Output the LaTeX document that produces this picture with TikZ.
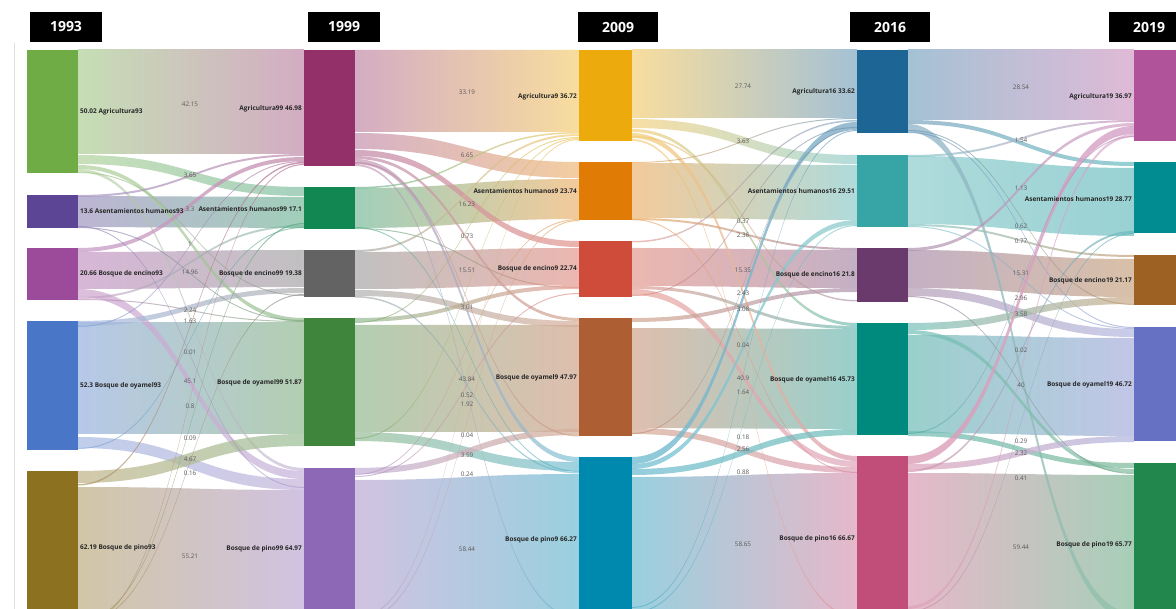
\documentclass[tikz,border=0pt]{standalone}
\usepackage{fontspec}
\setmainfont{Open Sans}
\pgfdeclarelayer{bands}
\pgfsetlayers{bands,main}

% bar colours
\definecolor{cA93}{HTML}{6FAC46}\definecolor{cH93}{HTML}{5B4594}\definecolor{cE93}{HTML}{9C4A9A}\definecolor{cO93}{HTML}{4A76C8}\definecolor{cP93}{HTML}{8B7120}
\definecolor{cA99}{HTML}{933069}\definecolor{cH99}{HTML}{138752}\definecolor{cE99}{HTML}{636363}\definecolor{cO99}{HTML}{3F853C}\definecolor{cP99}{HTML}{8C68B6}
\definecolor{cA9}{HTML}{EDAA0C}\definecolor{cH9}{HTML}{E07B05}\definecolor{cE9}{HTML}{CF4B3A}\definecolor{cO9}{HTML}{AD5E33}\definecolor{cP9}{HTML}{0089AE}
\definecolor{cA16}{HTML}{1C6595}\definecolor{cH16}{HTML}{37A5A5}\definecolor{cE16}{HTML}{6A3A6C}\definecolor{cO16}{HTML}{008A7E}\definecolor{cP16}{HTML}{C04E79}
\definecolor{cA19}{HTML}{B0539A}\definecolor{cH19}{HTML}{008C91}\definecolor{cE19}{HTML}{9E6124}\definecolor{cO19}{HTML}{6771C3}\definecolor{cP19}{HTML}{22874D}
\definecolor{valgray}{HTML}{5A5A5A}

\tikzset{
  bar/.style={rectangle, draw=none, inner sep=0pt, outer sep=0pt, minimum width=51pt, anchor=north west},
  lbl/.style={font=\bfseries\fontsize{6.5}{7}\selectfont, inner sep=0pt, text=black!85},
  val/.style={font=\fontsize{6.3}{7}\selectfont, inner sep=0pt, text=valgray},
  yearbox/.style={fill=black, text=white, font=\bfseries\fontsize{14}{16}\selectfont,
    minimum height=30pt, inner sep=0pt, outer sep=0pt, anchor=north west},
}

% \sflow{source}{offset}{target}{offset}{thickness}{tint}{opacity}
\newcommand\sflow[7]{%
  \path[left color=c#1!#6!white, right color=c#3!#6!white, fill opacity=#7]
    ([yshift=-#2pt]#1.north east) .. controls +(113,0) and +(-113,0) .. ([yshift=-#4pt]#3.north west)
    -- ([yshift={-#4pt-#5pt}]#3.north west) .. controls +(-113,0) and +(113,0) .. ([yshift={-#2pt-#5pt}]#1.north east)
    -- cycle;}

\begin{document}
\begin{tikzpicture}[x=1pt,y=-1pt]
\useasboundingbox (0,0) rectangle (1176,609);

% year headers
\node[yearbox, minimum width=72pt] (y93) at (30,12) {1993};
\node[yearbox, minimum width=72pt] (y99) at (308,12) {1999};
\node[yearbox, minimum width=80pt] (y09) at (578,12) {2009};
\node[yearbox, minimum width=80pt] (y16) at (850,12) {2016};
\node[yearbox, minimum width=80pt] (y19) at (1109,12) {2019};

\draw[black!12] (14,43) -- (14,609);

% bars, 1993
\node[bar, fill=cA93, minimum height=123pt] (A93) at (27,50) {};
\node[bar, fill=cH93, minimum height=33pt]  (H93) at (27,195) {};
\node[bar, fill=cE93, minimum height=52pt]  (E93) at (27,248) {};
\node[bar, fill=cO93, minimum height=129pt] (O93) at (27,321) {};
\node[bar, fill=cP93, minimum height=155pt] (P93) at (27,471) {};
% 1999
\node[bar, fill=cA99, minimum height=116pt] (A99) at (304,50) {};
\node[bar, fill=cH99, minimum height=42pt]  (H99) at (304,187) {};
\node[bar, fill=cE99, minimum height=47pt]  (E99) at (304,250) {};
\node[bar, fill=cO99, minimum height=128pt] (O99) at (304,318) {};
\node[bar, fill=cP99, minimum height=162pt] (P99) at (304,468) {};
% 2009
\node[bar, fill=cA9, minimum width=53pt, minimum height=91pt]  (A9) at (579,50) {};
\node[bar, fill=cH9, minimum width=53pt, minimum height=58pt]  (H9) at (579,162) {};
\node[bar, fill=cE9, minimum width=53pt, minimum height=56pt]  (E9) at (579,241) {};
\node[bar, fill=cO9, minimum width=53pt, minimum height=118pt] (O9) at (579,318) {};
\node[bar, fill=cP9, minimum width=53pt, minimum height=165pt] (P9) at (579,457) {};
% 2016
\node[bar, fill=cA16, minimum height=83pt]  (A16) at (857,50) {};
\node[bar, fill=cH16, minimum height=72pt]  (H16) at (857,155) {};
\node[bar, fill=cE16, minimum height=54pt]  (E16) at (857,248) {};
\node[bar, fill=cO16, minimum height=112pt] (O16) at (857,323) {};
\node[bar, fill=cP16, minimum height=165pt] (P16) at (857,456) {};
% 2019
\node[bar, fill=cA19, minimum height=91pt]  (A19) at (1134,50) {};
\node[bar, fill=cH19, minimum height=71pt]  (H19) at (1134,162) {};
\node[bar, fill=cE19, minimum height=50pt]  (E19) at (1134,255) {};
\node[bar, fill=cO19, minimum height=114pt] (O19) at (1134,327) {};
\node[bar, fill=cP19, minimum height=162pt] (P19) at (1134,463) {};

\begin{pgfonlayer}{bands}
\fill[white] (0,0) rectangle (1176,609);
% ---- 1993 -> 1999
\sflow{A93}{0}{A99}{0}{104}{40}{1}
\sflow{H93}{1}{H99}{10}{31}{40}{1}
\sflow{E93}{4}{E99}{0}{37}{40}{1}
\sflow{O93}{2}{O99}{5}{111}{40}{1}
\sflow{P93}{16}{P99}{22}{140}{40}{1}
\sflow{A93}{105}{H99}{0}{9}{50}{.75}
\sflow{A93}{115}{O99}{0}{4}{55}{.7}
\sflow{A93}{119}{P99}{0}{3}{55}{.6}
\sflow{H93}{0}{A99}{104}{2}{55}{.7}
\sflow{E93}{0}{A99}{107}{4}{55}{.75}
\sflow{E93}{41}{P99}{3}{8}{50}{.7}
\sflow{E93}{49}{H99}{38}{2}{55}{.6}
\sflow{O93}{0}{E99}{38}{5}{50}{.7}
\sflow{O93}{116}{P99}{11}{11}{50}{.7}
\sflow{P93}{0}{O99}{116}{12}{50}{.75}
\sflow{P93}{13}{A99}{112}{1.5}{70}{.7}
\sflow{P93}{150}{H99}{36}{1.2}{70}{.7}
\sflow{P93}{152}{E99}{44}{1}{70}{.7}
\sflow{P93}{154}{A99}{114}{1}{70}{.7}
\sflow{A93}{122}{E99}{45}{1}{70}{.6}
\sflow{H93}{32}{O99}{2}{1}{70}{.6}
\sflow{O93}{127}{H99}{40}{1}{70}{.6}
\sflow{E93}{51}{O99}{3}{1}{70}{.6}
\sflow{H93}{31}{P99}{19}{1}{70}{.6}
\sflow{O93}{5}{A99}{111}{1}{70}{.6}
% ---- 1999 -> 2009
\sflow{A99}{0}{A9}{0}{82}{40}{1}
\sflow{H99}{1}{H9}{17}{40}{40}{1}
\sflow{E99}{2}{E9}{7}{37}{40}{1}
\sflow{O99}{7}{O9}{7}{107}{40}{1}
\sflow{P99}{12}{P9}{17}{148}{40}{1}
\sflow{A99}{83}{H9}{0}{16}{50}{.75}
\sflow{A99}{100}{E9}{0}{6}{55}{.75}
\sflow{A99}{106}{O9}{0}{3}{55}{.7}
\sflow{A99}{109}{P9}{0}{5}{50}{.7}
\sflow{A99}{114}{P9}{160}{2}{55}{.6}
\sflow{H99}{0}{A9}{82}{1.5}{60}{.7}
\sflow{H99}{41}{E9}{46}{1}{70}{.6}
\sflow{E99}{0}{A9}{84}{2}{55}{.7}
\sflow{E99}{40}{O9}{3}{6}{50}{.7}
\sflow{O99}{0}{E9}{44}{4}{55}{.7}
\sflow{O99}{114}{P9}{5}{9}{50}{.75}
\sflow{O99}{4}{A9}{87}{1}{70}{.6}
\sflow{P99}{0}{O9}{111}{6}{50}{.75}
\sflow{P99}{6}{H9}{57}{1}{70}{.6}
\sflow{P99}{8}{E9}{52}{1}{70}{.6}
\sflow{P99}{150}{A9}{89}{1}{70}{.6}
\sflow{P99}{154}{H9}{58}{1}{70}{.6}
\sflow{O99}{120}{A9}{88}{1}{70}{.6}
\sflow{A99}{112}{O9}{117}{1.5}{60}{.6}
\sflow{H99}{40}{P9}{14}{1}{70}{.6}
\sflow{E99}{46}{P9}{15}{1.5}{60}{.6}
% ---- 2009 -> 2016
\sflow{A9}{0}{A16}{0}{68}{40}{1}
\sflow{H9}{1}{H16}{10}{55}{40}{1}
\sflow{E9}{7}{E16}{2}{38}{40}{1}
\sflow{O9}{10}{O16}{6}{100}{40}{1}
\sflow{P9}{20}{P16}{17}{145}{40}{1}
\sflow{A9}{69}{H16}{0}{9}{50}{.75}
\sflow{A9}{79}{O16}{0}{3}{55}{.7}
\sflow{A9}{83}{P16}{0}{5}{55}{.75}
\sflow{A9}{89}{P16}{160}{2}{60}{.6}
\sflow{H9}{0}{A16}{68}{1}{70}{.6}
\sflow{H9}{56}{E16}{0}{2}{60}{.7}
\sflow{E9}{0}{A16}{70}{1.5}{60}{.6}
\sflow{E9}{45}{O16}{3}{3}{55}{.7}
\sflow{E9}{48}{P16}{5}{6}{50}{.7}
\sflow{O9}{0}{E16}{40}{4}{55}{.7}
\sflow{O9}{110}{P16}{11}{6}{50}{.75}
\sflow{P9}{0}{A16}{72}{7}{55}{.8}
\sflow{P9}{7}{H16}{65}{5}{55}{.75}
\sflow{P9}{12}{O16}{106}{6}{55}{.75}
\sflow{P9}{150}{A16}{80}{1}{70}{.6}
\sflow{P9}{155}{H16}{70}{1}{70}{.6}
\sflow{O9}{115}{A16}{79}{1}{70}{.6}
\sflow{H9}{57}{P16}{16}{1}{70}{.6}
\sflow{A9}{86}{E16}{52}{1.5}{60}{.6}
\sflow{E9}{54}{A16}{77}{1}{70}{.6}
% ---- 2016 -> 2019
\sflow{A16}{0}{A19}{0}{70}{40}{1}
\sflow{H16}{1}{H19}{6}{68}{40}{1}
\sflow{E16}{2}{E19}{4}{38}{40}{1}
\sflow{O16}{12}{O19}{11}{98}{40}{1}
\sflow{P16}{17}{P19}{12}{146}{40}{1}
\sflow{A16}{70}{H19}{0}{4}{55}{.75}
\sflow{A16}{74}{P19}{150}{8}{50}{.75}
\sflow{A16}{82}{O19}{0}{1}{70}{.6}
\sflow{H16}{0}{A19}{70}{2}{60}{.7}
\sflow{H16}{69}{E19}{0}{2}{60}{.7}
\sflow{H16}{71}{O19}{1}{1}{70}{.6}
\sflow{E16}{0}{A19}{73}{3}{55}{.7}
\sflow{E16}{40}{O19}{2}{8}{50}{.7}
\sflow{O16}{0}{E19}{42}{7}{50}{.75}
\sflow{O16}{7}{P19}{6}{4}{55}{.7}
\sflow{O16}{108}{P19}{0}{5}{55}{.75}
\sflow{P16}{0}{A19}{76}{8}{55}{.8}
\sflow{P16}{8}{O19}{109}{6}{50}{.75}
\sflow{P16}{14}{H19}{69}{2}{60}{.7}
\sflow{P16}{150}{A19}{84}{3}{55}{.6}
\sflow{P16}{155}{H19}{71}{1}{70}{.6}
\sflow{E16}{48}{P19}{10}{1}{70}{.6}
\sflow{O16}{110}{A19}{86}{1}{70}{.6}
\sflow{A16}{80}{E19}{49}{1}{70}{.6}
\end{pgfonlayer}

% node labels
\node[lbl, anchor=west] (tA93) at (80,112) {50.02 Agricultura93};
\node[lbl, anchor=west] (tH93) at (80,211) {13.6 Asentamientos humanos93};
\node[lbl, anchor=west] (tE93) at (80,274) {20.66 Bosque de encino93};
\node[lbl, anchor=west] (tO93) at (80,386) {52.3 Bosque de oyamel93};
\node[lbl, anchor=west] (tP93) at (80,548) {62.19 Bosque de pino93};

\node[lbl, anchor=east] (tA99) at (302,109) {Agricultura99 46.98};
\node[lbl, anchor=east] (tH99) at (302,209) {Asentamientos humanos99 17.1};
\node[lbl, anchor=east] (tE99) at (302,274) {Bosque de encino99 19.38};
\node[lbl, anchor=east] (tO99) at (302,383) {Bosque de oyamel99 51.87};
\node[lbl, anchor=east] (tP99) at (302,549) {Bosque de pino99 64.97};

\node[lbl, anchor=east] (tA9) at (577,97) {Agricultura9 36.72};
\node[lbl, anchor=east] (tH9) at (577,191) {Asentamientos humanos9 23.74};
\node[lbl, anchor=east] (tE9) at (577,269) {Bosque de encino9 22.74};
\node[lbl, anchor=east] (tO9) at (577,378) {Bosque de oyamel9 47.97};
\node[lbl, anchor=east] (tP9) at (577,540) {Bosque de pino9 66.27};

\node[lbl, anchor=east] (tA16) at (855,92) {Agricultura16 33.62};
\node[lbl, anchor=east] (tH16) at (855,191) {Asentamientos humanos16 29.51};
\node[lbl, anchor=east] (tE16) at (855,275) {Bosque de encino16 21.8};
\node[lbl, anchor=east] (tO16) at (855,380) {Bosque de oyamel16 45.73};
\node[lbl, anchor=east] (tP16) at (855,539) {Bosque de pino16 66.67};

\node[lbl, anchor=east] (tA19) at (1132,97) {Agricultura19 36.97};
\node[lbl, anchor=east] (tH19) at (1132,199) {Asentamientos humanos19 28.77};
\node[lbl, anchor=east] (tE19) at (1132,281) {Bosque de encino19 21.17};
\node[lbl, anchor=east] (tO19) at (1132,385) {Bosque de oyamel19 46.72};
\node[lbl, anchor=east] (tP19) at (1132,545) {Bosque de pino19 65.77};

% flow values
\foreach \v/\y [count=\i] in {42.15/104, 3.65/175, 3.3/209, 1/244, 14.96/272, 2.24/310, 1.63/321,
    0.01/352, 45.1/381, 0.8/406, 0.09/438, 4.67/459, 0.16/473, 55.21/556}
  \node[val] (va\i) at (190,\y) {\v};
\foreach \v/\y [count=\i] in {33.19/92, 6.65/155, 16.23/204, 0.73/236, 15.51/270, 3.01/307, 43.84/379,
    0.52/395, 1.92/404, 0.04/435, 3.59/455, 0.24/474, 58.44/549}
  \node[val] (vb\i) at (467,\y) {\v};
\foreach \v/\y [count=\i] in {27.74/86, 3.63/141, 0.37/221, 2.36/235, 15.35/270, 2.43/293, 3.08/309,
    0.04/345, 40.9/378, 1.64/392, 0.18/437, 2.56/449, 0.88/472, 58.65/544}
  \node[val] (vc\i) at (743,\y) {\v};
\foreach \v/\y [count=\i] in {28.54/87, 1.54/140, 1.13/188, 0.62/226, 0.77/241, 15.31/273, 2.96/298,
    3.58/314, 0.02/350, 40/385, 0.29/441, 2.32/453, 0.41/478, 59.44/547}
  \node[val] (vd\i) at (1021,\y) {\v};
\end{tikzpicture}
\end{document}
